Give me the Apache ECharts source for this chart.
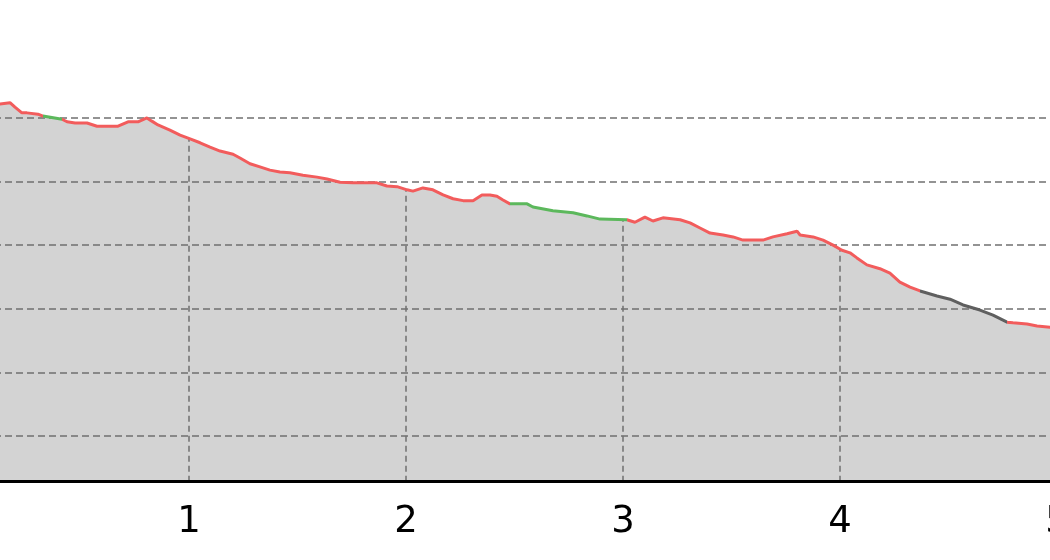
<!DOCTYPE html>
<html>
<head>
<meta charset="utf-8">
<script src="https://cdn.jsdelivr.net/npm/echarts@6/dist/echarts.min.js"></script>
<style>html,body{margin:0;padding:0;background:#fff;}#chart{width:1050px;height:560px;}</style>
</head>
<body>
<div id="chart"></div>
<script>
// distance (km)
const distance = [0.000,0.129,0.175,0.198,0.230,0.253,0.304,0.327,0.415,0.438,0.475,0.530,0.576,0.673,0.719,0.765,0.806,0.829,0.857,0.912,0.959,1.005,1.051,1.097,1.143,1.203,1.235,1.281,1.327,1.373,1.419,1.465,1.525,1.590,1.636,1.696,1.756,1.866,1.912,1.959,2.005,2.032,2.078,2.124,2.171,2.217,2.263,2.309,2.350,2.387,2.419,2.447,2.479,2.558,2.585,2.677,2.770,2.834,2.894,3.018,3.055,3.101,3.138,3.184,3.263,3.309,3.355,3.401,3.461,3.507,3.553,3.645,3.691,3.756,3.802,3.816,3.876,3.922,3.968,4.009,4.046,4.078,4.124,4.184,4.230,4.276,4.323,4.369,4.447,4.507,4.567,4.645,4.705,4.770,4.797,4.862,4.908,4.968,5.000];
// elevation (arbitrary units, gridlines every 10)
const elevation = [62.3,62.2,62.4,61.7,60.8,60.8,60.6,60.3,59.8,59.4,59.2,59.2,58.7,58.7,59.4,59.4,60.0,59.5,58.9,58.1,57.3,56.7,56.1,55.4,54.8,54.3,53.7,52.8,52.3,51.8,51.5,51.4,51.0,50.7,50.4,49.9,49.8,49.8,49.3,49.2,48.7,48.5,49.0,48.7,47.9,47.3,47.0,47.0,47.9,47.9,47.7,47.1,46.5,46.5,46.0,45.4,45.1,44.6,44.1,44.0,43.6,44.4,43.8,44.3,44.0,43.5,42.7,41.9,41.6,41.3,40.8,40.8,41.3,41.8,42.2,41.6,41.3,40.8,40.0,39.2,38.8,38.0,36.9,36.3,35.6,34.2,33.4,32.8,32.0,31.5,30.6,29.8,29.0,27.9,27.8,27.6,27.3,27.1,27.0];
// coloured stretches of the profile line
const segStart = [0.327, 2.479, 4.369];
const segEnd   = [0.415, 3.018, 4.770];
const segColor = ['#5cb85c', '#5cb85c', '#5f5f5f'];
const baseColor = '#f25c5c';
const xTicks = [0, 1, 2, 3, 4, 5];

const pts = distance.map((d, i) => [d, elevation[i]]);
const pieces = [];
let prev = -Infinity;
segStart.forEach((s, i) => {
  pieces.push({gte: prev, lt: s, color: baseColor});
  pieces.push({gte: s, lt: segEnd[i], color: segColor[i]});
  prev = segEnd[i];
});
pieces.push({gte: prev, color: baseColor});

const chart = echarts.init(document.getElementById('chart'), null, {renderer: 'canvas'});
chart.setOption({
  animation: false,
  backgroundColor: '#ffffff',
  grid: {left: -28, right: -7, top: 95.7, bottom: 78.5, containLabel: false, outerBoundsMode: 'none'},
  graphic: [{type: 'rect', z: 3, silent: true, shape: {x: 0, y: 0, width: 1050, height: 98}, style: {fill: '#ffffff'}}],
  xAxis: {
    type: 'value', min: xTicks[0], max: xTicks[xTicks.length - 1], interval: 1, z: 1,
    axisLine: {lineStyle: {color: '#000', width: 3}},
    axisTick: {show: false},
    axisLabel: {color: '#000', fontFamily: 'DejaVu Sans', fontSize: 37, margin: 22,
      formatter: v => String(v)},
    splitLine: {show: true, showMinLine: false, showMaxLine: false, lineStyle: {color: '#707070', width: 1.5, type: [6, 4]}}
  },
  yAxis: {
    type: 'value', min: 2.846, max: 63.5, minInterval: 10, maxInterval: 10, z: 3,
    axisLine: {show: false}, axisTick: {show: false}, axisLabel: {show: false},
    splitLine: {show: true, showMinLine: false, showMaxLine: false,
      lineStyle: {color: '#707070', width: 1.5, type: [7, 4]}}
  },
  visualMap: {
    show: false, type: 'piecewise', dimension: 0, seriesIndex: 2, pieces: pieces
  },
  series: [
    { // ground fill under the profile
      type: 'line', data: pts, showSymbol: false, z: 0, silent: true,
      lineStyle: {width: 0, opacity: 0},
      areaStyle: {color: '#d3d3d3', opacity: 1, origin: 'start'}
    },
    { // white sky above the profile hides vertical grid lines
      type: 'line', data: pts, showSymbol: false, z: 2, silent: true,
      lineStyle: {width: 0, opacity: 0},
      areaStyle: {color: '#ffffff', opacity: 1, origin: 'end'}
    },
    {
      type: 'line', data: pts, showSymbol: false, z: 4, silent: true,
      lineStyle: {width: 3}
    }
  ]
});
</script>
</body>
</html>
